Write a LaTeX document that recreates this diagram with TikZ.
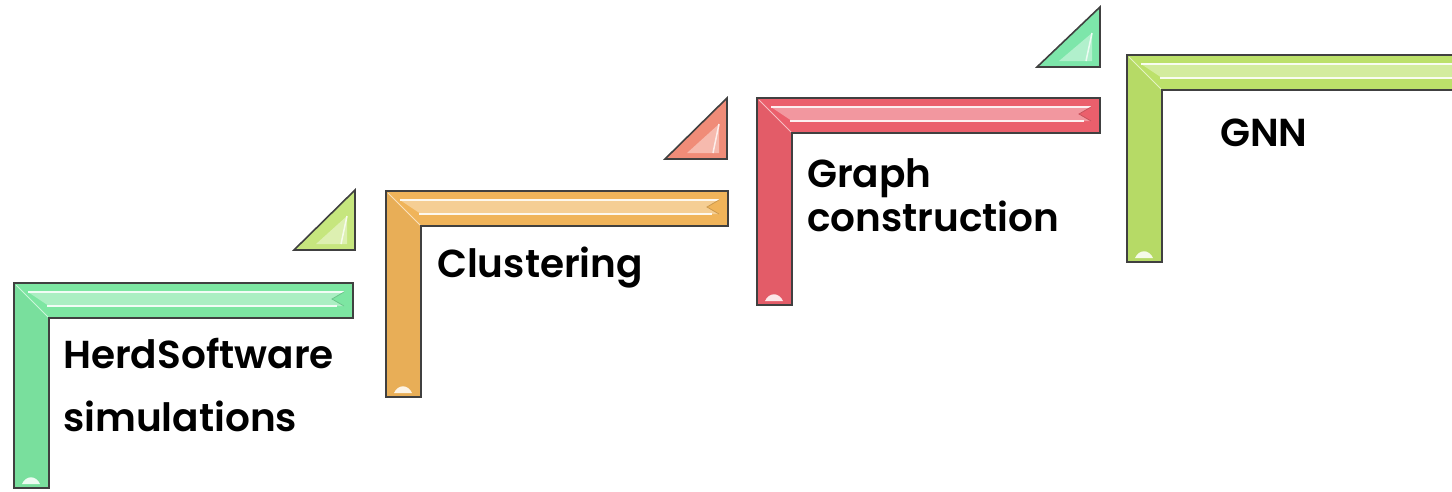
\documentclass[tikz,border=0pt]{standalone}
\usepackage{fontspec}
\setmainfont{Poppins}[BoldFont={Poppins SemiBold}]
\definecolor{cgreen}{HTML}{7DE6A2}
\definecolor{corange}{HTML}{F0B45A}
\definecolor{cred}{HTML}{EB5F6C}
\definecolor{clime}{HTML}{BCE16A}
\definecolor{tlime}{HTML}{C6E67E}
\definecolor{tsalmon}{HTML}{F08C78}
\definecolor{tmint}{HTML}{7DE6AA}
\definecolor{edgecol}{HTML}{404040}
\tikzset{
  steplabel/.style={anchor=base west, inner sep=0pt, font=\fontsize{39}{45}\selectfont\bfseries, text=black},
  outline/.style={draw=edgecol, line width=1.6pt, line join=miter},
}
% #1 x0, #2 y0, #3 x1, #4 y2, #5 colour
\newcommand\drawstair[5]{%
  \fill[#5] (#1,#2) -- (#3,#2) -- (#3,#2+35) -- (#1+35,#2+35) -- (#1+35,#4) -- (#1,#4) -- cycle;
  \fill[#5!80!black, opacity=0.15] (#1,#2) -- (#1+35,#2+35) -- (#1+35,#4) -- (#1,#4) -- cycle;
  \fill[white!35!#5] (#1+14,#2+9) -- (#3-9,#2+9) -- (#3-21,#2+16) -- (#3-9,#2+23) -- (#1+35,#2+23) -- cycle;
  \draw[white!90!#5, line width=2.5pt] (#1+14,#2+9) -- (#3-9,#2+9);
  \draw[white!90!#5, line width=2.5pt] (#1+33,#2+23) -- (#3-16,#2+23);
  \draw[#5!85!black, line width=0.8pt] (#3-9,#2+9) -- (#3-21,#2+16) -- (#3-9,#2+23);
  \draw[white!60!#5, line width=1pt] (#1+2,#2+2) -- (#1+35,#2+35);
  \fill[white!85!#5] (#1+8,#4-4) .. controls (#1+12,#4-13) and (#1+22,#4-13) .. (#1+26,#4-4) -- cycle;
  \draw[outline] (#1,#2) -- (#3,#2) -- (#3,#2+35) -- (#1+35,#2+35) -- (#1+35,#4) -- (#1,#4) -- cycle;
}
% #1 xl, #2 yb, #3 xr, #4 yt, #5 colour
\newcommand\drawtri[5]{%
  \fill[#5] (#1,#2) -- (#3,#2) -- (#3,#4) -- cycle;
  \fill[white!40!#5] (#1+22,#2-6) -- (#3-8,#2-6) -- (#3-8,#4+26) -- cycle;
  \draw[white!85!#5, line width=1.5pt] (#3-8,#4+26) -- (#3-14,#2-6);
  \draw[outline] (#1,#2) -- (#3,#2) -- (#3,#4) -- cycle;
}
\begin{document}
\begin{tikzpicture}[x=1pt,y=-1pt]
\useasboundingbox (0,0) rectangle (1452,491);
\fill[white] (0,0) rectangle (1452,491);

\drawstair{14}{283}{353}{488}{cgreen}
\drawstair{386}{191}{728}{397}{corange}
\drawstair{757}{98}{1100}{305}{cred}
\drawstair{1127}{55}{1475}{262}{clime}

\drawtri{294}{250}{355}{190}{tlime}
\drawtri{665}{159}{727}{98}{tsalmon}
\drawtri{1037}{67}{1100}{7}{tmint}

\node[steplabel] (herd) at (63,368) {HerdSoftware};
\node[steplabel] (sim) at (63,431) {simulations};
\node[steplabel] (clus) at (437,277) {Clustering};
\node[steplabel] (graph) at (807,187) {Graph};
\node[steplabel] (constr) at (807,231) {construction};
\node[steplabel] (gnn) at (1220,146) {GNN};
\end{tikzpicture}
\end{document}
